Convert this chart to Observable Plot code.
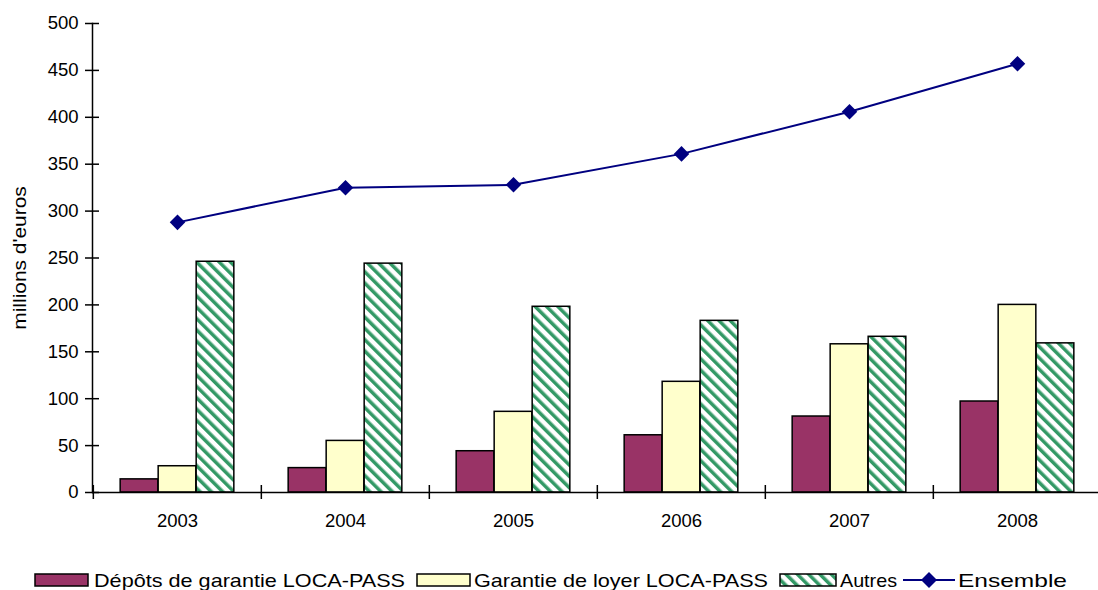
<!DOCTYPE html>
<html><head><meta charset="utf-8">
<script src="https://cdn.jsdelivr.net/npm/d3@7"></script>
<script src="https://cdn.jsdelivr.net/npm/@observablehq/plot@0.6"></script>
<style>
body{margin:0;background:#fff;font-family:"Liberation Sans",Arial,sans-serif;color:#000;}
#wrap{position:relative;width:1098px;height:590px;overflow:hidden;}
#ylabel{position:absolute;left:20px;top:258px;transform:translate(-50%,-50%) rotate(-90deg) scaleX(1.13);font-size:18.5px;white-space:nowrap;}
#legend{position:absolute;left:0;top:560px;}
</style></head><body>
<div id="wrap"><div id="chart"></div><div id="ylabel"></div><div id="legend"></div></div>
<script>
const years = ["2003","2004","2005","2006","2007","2008"];
const depots = [14,26,44,61,81,97];
const garantie = [28,55,86,118,158,200];
const autres = [246,244,198,183,166,159];
const ensemble = [288,325,328,361,406,457];
const seriesNames = ["Dépôts de garantie LOCA-PASS","Garantie de loyer LOCA-PASS","Autres","Ensemble"];
const seriesColors = ["#993366","#FFFFCC","url(#hatch)","#000080"];
const yTicks = [0,50,100,150,200,250,300,350,400,450,500];
const yLabel = "millions d'euros";

const W = 1098, H = 560, mL = 92, mT = 23, mB = 68;
const xRange = [92, 1102];
const step = (xRange[1]-xRange[0]) / years.length;
const barW = 38;
const gInset = (step - 3*barW) / 2;

const data = years.map((y,i)=>({year:y, depots:depots[i], garantie:garantie[i], autres:autres[i], ensemble:ensemble[i]}));
const keys = ["depots","garantie","autres"];

const barMarks = keys.map((k,j)=>Plot.barY(data, {
  x:"year", y:k, fill: seriesColors[j], stroke:"#000", strokeWidth:1.5,
  insetLeft: gInset + j*barW, insetRight: step - gInset - (j+1)*barW
}));

const chart = Plot.plot({
  width: W, height: H, marginLeft: mL, marginTop: mT, marginBottom: mB, marginRight: 0,
  style: {fontFamily:"Liberation Sans, Arial, sans-serif", fontSize:"18.5px", color:"#000", background:"#fff", overflow:"visible"},
  x: {domain: years, range: xRange, padding: 0, axis: null},
  y: {domain: [0,500], axis: null},
  marks: [
    ...barMarks,
    Plot.ruleY([0], {stroke:"#000", strokeWidth:1.5}),
    Plot.frame({anchor:"left", stroke:"#000", strokeWidth:1.5}),
    Plot.axisY({ticks: yTicks, tickSize: 0, tickPadding: 14, fontSize: 18.5, label: null}),
    Plot.axisY({ticks: yTicks, tickSize: 14, dx: 7, tickFormat: ()=>"", label: null, strokeWidth:1.5}),
    Plot.axisX({tickSize: 14, dx: -step/2, dy: -7, tickFormat: ()=>"", label: null, strokeWidth:1.5}),
    Plot.axisX({tickSize: 0, tickPadding: 21, fontSize: 18.5, label: null}),
    Plot.line(data, {x:"year", y:"ensemble", stroke: seriesColors[3], strokeWidth: 2}),
    Plot.dot(data, {x:"year", y:"ensemble", symbol:"diamond2", r:7, fill: seriesColors[3], stroke:"none"})
  ]
});

function addHatch(sel, id) {
  const pat = sel.append("pattern").attr("id",id).attr("patternUnits","userSpaceOnUse")
    .attr("width",8).attr("height",8).attr("patternTransform","rotate(-45)");
  pat.append("rect").attr("width",8).attr("height",8).attr("fill","#fff");
  pat.append("rect").attr("width",3.5).attr("height",8).attr("fill","#339966");
}
addHatch(d3.select(chart).insert("defs", ":first-child"), "hatch");
document.getElementById("chart").appendChild(chart);
document.getElementById("ylabel").textContent = yLabel;

// legend (below the plot)
const legendLayout = [
  {sx:35, sw:53, tx:94, tw:311},
  {sx:417, sw:53, tx:474, tw:294},
  {sx:780, sw:56, tx:840, tw:57},
  {sx:903, sw:52, tx:958, tw:109}
];
const lsvg = d3.select("#legend").append("svg").attr("width",1098).attr("height",30)
  .style("font-family","Liberation Sans, Arial, sans-serif").style("font-size","18.5px");
addHatch(lsvg.append("defs"), "hatchL");
seriesNames.forEach((name,i)=>{
  const L = legendLayout[i];
  if (i < 3) {
    lsvg.append("rect").attr("x",L.sx).attr("y",14).attr("width",L.sw).attr("height",12)
      .attr("fill", i===2 ? "url(#hatchL)" : seriesColors[i]).attr("stroke","#000").attr("stroke-width",1.5);
  } else {
    lsvg.append("line").attr("x1",L.sx).attr("x2",L.sx+L.sw).attr("y1",20).attr("y2",20)
      .attr("stroke",seriesColors[3]).attr("stroke-width",2);
    const cx = L.sx + L.sw/2;
    lsvg.append("path").attr("d",`M${cx},12L${cx+8},20L${cx},28L${cx-8},20Z`).attr("fill",seriesColors[3]);
  }
  lsvg.append("text").attr("x",L.tx).attr("y",26.5).attr("textLength",L.tw)
    .attr("lengthAdjust","spacingAndGlyphs").attr("fill","#000").text(name);
});
</script>
</body></html>
